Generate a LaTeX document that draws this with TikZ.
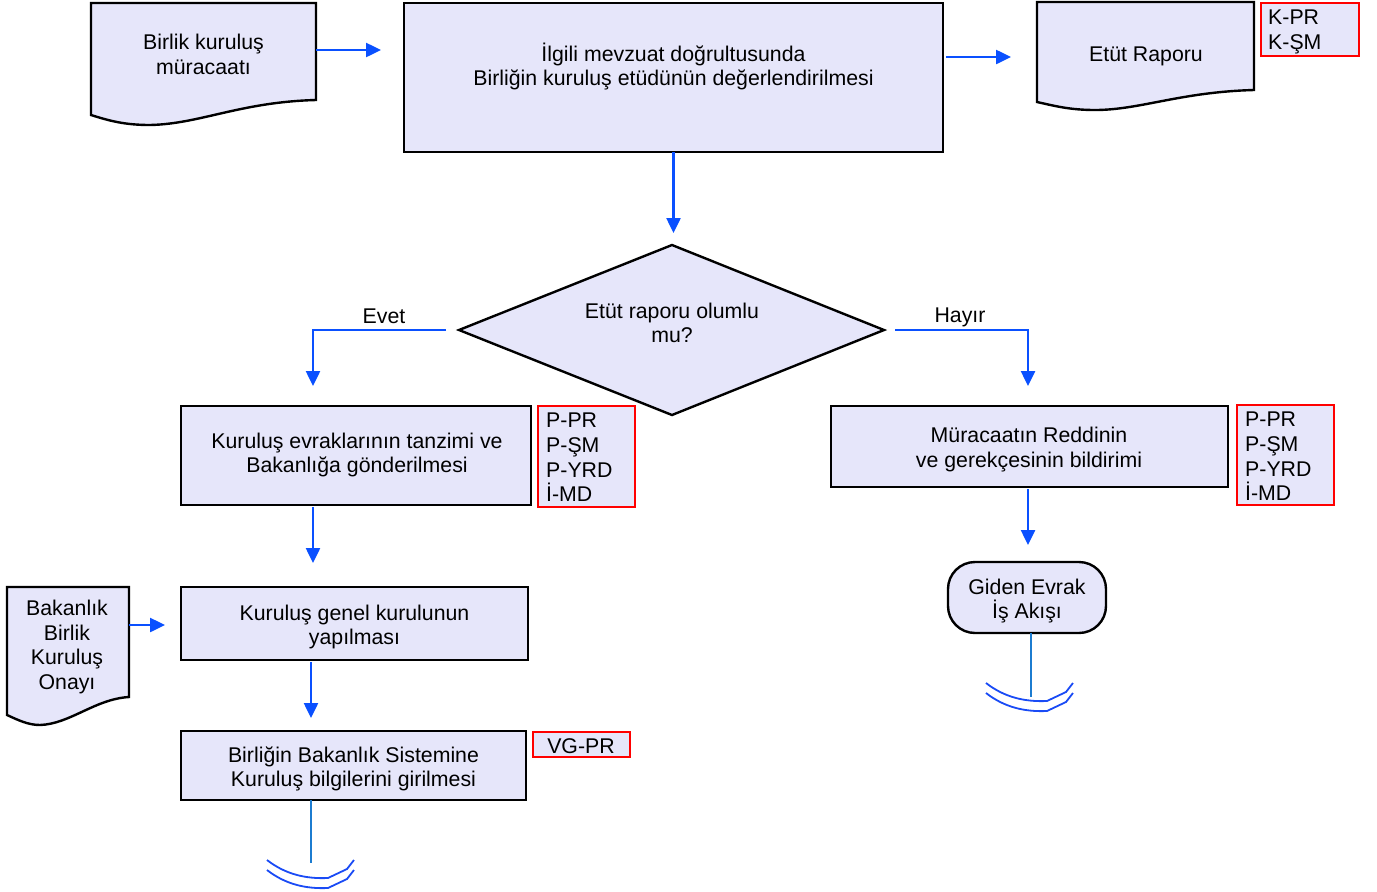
\documentclass[tikz,border=0pt]{standalone}
\usepackage{fontspec}
\setmainfont{Liberation Sans}
\usetikzlibrary{arrows.meta}
\definecolor{lav}{HTML}{E6E6FA}
\definecolor{arrblue}{HTML}{0A50FF}
\definecolor{stubblue}{HTML}{1C7CD0}
\definecolor{arcblue}{HTML}{1A4BF5}
\newcommand{\fs}{\fontsize{21.3}{24.7}\selectfont}
\begin{document}
\begin{tikzpicture}[x=1pt,y=-1pt,
  box/.style={draw=black,line width=2.4pt,fill=lav,rectangle,inner sep=0pt,outer sep=0pt},
  docst/.style={draw=black,line width=2.4pt,fill=lav},
  redbox/.style={draw=red,line width=1.6pt,fill=lav,rectangle,inner sep=0pt,outer sep=0pt},
  txt/.style={inner sep=0pt,align=center,font=\fs},
  ltxt/.style={inner sep=0pt,align=left,font=\fs,anchor=north west},
  arr/.style={draw=arrblue,line width=2.5pt,-{Triangle[length=15pt,width=14pt]}},
  stub/.style={draw=stubblue,line width=2.2pt},
  arcst/.style={draw=arcblue,line width=1.8pt}]
\useasboundingbox (0,0) rectangle (1377,892);

% document 1
\draw[docst] (91,3) -- (316,3) -- (316,100) .. controls (240,102) and (200,124) .. (150,125) .. controls (125,125) and (110,121) .. (91,115) -- cycle;
\node[txt] (doc1) at (203.5,54.5) {Birlik kuruluş\\müracaatı};
\coordinate (d1e) at (316,50);

% main box
\node[box,minimum width=539,minimum height=149] (main) at (673.5,77.5) {};
\node[txt] (maint) at (673.5,66.5) {İlgili mevzuat doğrultusunda\\Birliğin kuruluş etüdünün değerlendirilmesi};

% etut raporu doc
\draw[docst] (1037,2) -- (1254,2) -- (1254,90) .. controls (1180,92) and (1140,110) .. (1095,110) .. controls (1070,110) and (1055,106) .. (1037,102) -- cycle;
\node[txt] (etut) at (1146,56) {Etüt Raporu};
\node[redbox,minimum width=98,minimum height=53,anchor=north west] (r1) at (1261,3) {};
\node[ltxt] (r1t) at (1268,10) {K-PR\\K-ŞM};

% arrows top
\draw[arr] (d1e) -- ++(65,0);
\draw[arr] ([yshift=20.5pt]main.east) ++(3,0) -- ++(65,0);
\draw[arr] (main.south) -- ++(0,81);

% diamond
\coordinate (dt) at (672,245);
\coordinate (dl) at (459,330);
\coordinate (dr) at (884,330);
\coordinate (db) at (672,415);
\draw[docst] (dt) -- (dr) -- (db) -- (dl) -- cycle;
\node[txt] (dtext) at (672,323) {Etüt raporu olumlu\\mu?};

% evet / hayir
\coordinate (e1) at (313,386);
\coordinate (h1) at (1028,386);
\draw[arr] ([xshift=-13pt]dl) -| (e1);
\draw[arr] ([xshift=11pt]dr) -| (h1);
\node[txt] (evet) at (384,316) {Evet};
\node[txt] (hayir) at (960,317) {Hayır};

% left column
\node[box,minimum width=350,minimum height=99] (b2) at (356,455.5) {};
\node[txt] (b2t) at (357,455) {Kuruluş evraklarının tanzimi ve\\Bakanlığa gönderilmesi};
\node[redbox,minimum width=97,minimum height=101,anchor=north west] (r2) at (538,406) {};
\node[ltxt] (r2t) at (546,413) {P-PR\\P-ŞM\\P-YRD\\İ-MD};

\draw[arr] (313,507) coordinate (a2s) -- ++(0,56);

\node[box,minimum width=347,minimum height=73] (b3) at (354.5,623.5) {};
\node[txt] (b3t) at (354.5,627) {Kuruluş genel kurulunun\\yapılması};

\draw[docst] (7,587) -- (129,587) -- (129,697) .. controls (95,699) and (70,724) .. (40,725) .. controls (28,725) and (18,720) .. (7,715) -- cycle;
\node[txt] (bak) at (67,647) {Bakanlık\\Birlik\\Kuruluş\\Onayı};
\draw[arr] (129,625) coordinate (bake) -- ++(36,0);

\draw[arr] (311,662) coordinate (a3s) -- ++(0,56);

\node[box,minimum width=345,minimum height=69] (b4) at (353.5,765.5) {};
\node[txt] (b4t) at (353.5,769) {Birliğin Bakanlık Sistemine\\Kuruluş bilgilerini girilmesi};
\node[redbox,minimum width=97,minimum height=25,anchor=north west] (r4) at (533,732) {};
\node[txt] (r4t) at (581,746) {VG-PR};

\coordinate (s1) at (311,863);
\draw[stub] (311,800) -- (s1);
\draw[arcst] (267,860) .. controls (285,874) and (305,879) .. (328,878) -- (347,869) -- (354,860);
\draw[arcst] (267,870) .. controls (285,884) and (305,889) .. (328,888) -- (347,879) -- (354,870);

% right column
\node[box,minimum width=397,minimum height=81] (b5) at (1029.5,446.5) {};
\node[txt] (b5t) at (1029,449.5) {Müracaatın Reddinin\\ve gerekçesinin bildirimi};
\node[redbox,minimum width=97,minimum height=100,anchor=north west] (r5) at (1237,405) {};
\node[ltxt] (r5t) at (1245,412) {P-PR\\P-ŞM\\P-YRD\\İ-MD};

\draw[arr] (1028,489) coordinate (a5s) -- ++(0,56);

\node[box,minimum width=158,minimum height=71,rounded corners=27pt] (term) at (1027,597.5) {};
\node[txt] (termt) at (1027,601) {Giden Evrak\\İş Akışı};

\coordinate (s2) at (1031,697);
\draw[stub] (1031,633) -- (s2);
\begin{scope}[shift={(719,-177)}]
\draw[arcst] (267,860) .. controls (285,874) and (305,879) .. (328,878) -- (347,869) -- (354,860);
\draw[arcst] (267,870) .. controls (285,884) and (305,889) .. (328,888) -- (347,879) -- (354,870);
\end{scope}
\end{tikzpicture}
\end{document}
